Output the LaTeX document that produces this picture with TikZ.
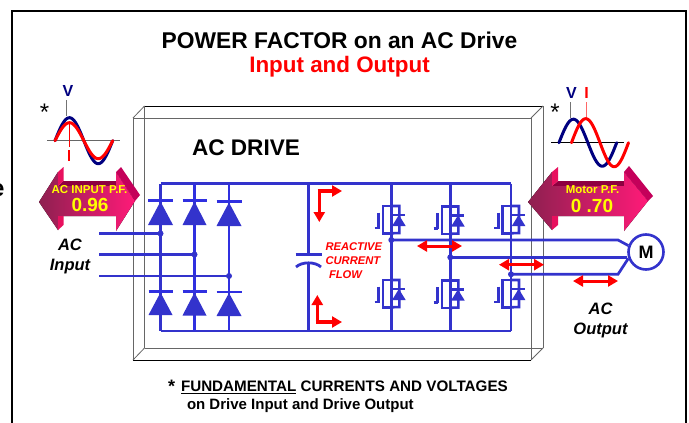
\documentclass[tikz,border=0pt]{standalone}
\usepackage{fontspec}
\setmainfont{Liberation Sans}
\usetikzlibrary{arrows.meta}
\definecolor{bl}{HTML}{3333CC}
\definecolor{blb}{HTML}{3030E0}
\definecolor{navy}{HTML}{000080}
\definecolor{rd}{HTML}{FF0000}
\definecolor{yl}{HTML}{FFFF00}
\definecolor{band}{HTML}{C4005A}
\definecolor{strip}{HTML}{E8105E}
\definecolor{dk}{HTML}{8E0040}
\definecolor{gL}{HTML}{8E2050}
\definecolor{gR}{HTML}{FF1A78}
\newcommand{\fsz}[1]{\fontsize{#1}{#1}\selectfont}
\tikzset{
  txt/.style={inner sep=0pt,outer sep=0pt,align=center},
  wire/.style={draw=bl,line width=2.7pt},
  rwire/.style={draw=blb,line width=2.7pt},
  igw/.style={draw=bl,line width=2.6pt},
  redarrow/.style={draw=rd,line width=3pt,{Triangle[length=10pt,width=11pt]}-{Triangle[length=10pt,width=11pt]}},
  redone/.style={draw=rd,line width=3.3pt,-{Triangle[length=10pt,width=11pt]}},
  sine/.style={line width=3pt,line cap=round},
  boxd/.style={draw=black,line width=1pt},
  boxg/.style={draw=black!60,line width=1pt},
  dot/.style={circle,fill=bl,minimum size=6pt,inner sep=0pt},
}
% diode: x, bar y, base y, half width
\newcommand{\diodeat}[4]{%
  \fill[bl] (#1,#2+1) -- (#1+#4,#3) -- (#1-#4,#3) -- cycle;
  \draw[blb,line width=2.8pt] (#1-#4,#2) -- (#1+#4,#2);
}
% igbt: column x, top y
\newcommand{\igbtat}[2]{%
  \begin{scope}[shift={(#1,#2)}]
    \draw[igw] (0,0) -- (8,0) -- (8,27) -- (0,27.3);
    \draw[igw] (0,0) -- (-8.5,0) -- (-8.5,27.3) -- (0,27.3);
    \draw[bl,line width=3.2pt] (-12.6,6.5) -- (-12.6,22.5);
    \draw[igw] (-16.8,22) -- (-12.6,22);
    \draw[igw] (1,9) -- (14,9);
    \fill[bl] (7.6,9) -- (14.4,20) -- (0.8,20) -- cycle;
  \end{scope}
}
\begin{document}
\begin{tikzpicture}[x=1pt,y=-1pt]
\useasboundingbox (0,0) rectangle (689,423);
\fill[white] (0,0) rectangle (689,423);
% frame
\draw[black,line width=2pt] (11.5,423) -- (11.5,11) -- (686,11) -- (686,423);
\node[txt,anchor=east] (frag) at (4.5,190) {\fsz{24}\bfseries e};
% titles
\node[txt] (title) at (339.5,40) {\fsz{22.8}\bfseries POWER FACTOR on an AC Drive};
\node[txt] (sub) at (339.5,67) {\fsz{22.4}\bfseries\color{rd} Input and Output};
% box
\draw[boxd] (144,106) -- (543,106);
\draw[boxg] (133,118) -- (531,118);
\draw[boxg] (133,118) -- (133,360);
\draw[boxg] (144.5,106) -- (144.5,348);
\draw[boxg] (144.5,348) -- (543,348);
\draw[boxd] (133,360) -- (531,360);
\draw[boxg] (531,118) -- (531,360);
\draw[boxg] (543,106) -- (543,348);
\draw[boxg,line width=.8pt] (133,118) -- (144.5,106);
\draw[boxg,line width=.8pt] (531,118) -- (543,106);
\draw[boxg,line width=.8pt] (133,360) -- (144.5,348);
\draw[boxg,line width=.8pt] (531,360) -- (543,348);
\node[txt] (drv) at (246,148) {\fsz{22.6}\bfseries AC DRIVE};
% named points
\coordinate (tL) at (160.5,183.5); \coordinate (tM) at (194.5,183.5); \coordinate (tR) at (229,183.5);
\coordinate (bL) at (160.5,331); \coordinate (bM) at (194.5,331); \coordinate (bR) at (229,331);
\coordinate (tC) at (308.3,183.5); \coordinate (bC) at (308.3,331);
\coordinate (t1) at (391.3,183.5); \coordinate (t2) at (450.3,183.5); \coordinate (t3) at (511,183.5);
\coordinate (b1) at (391.3,331); \coordinate (b2) at (450.3,331); \coordinate (b3) at (511,331);
\coordinate (capA) at (308.3,254.3); \coordinate (capB) at (308.3,264);
\coordinate (i1) at (99,233.5); \coordinate (i2) at (99,254.5); \coordinate (i3) at (99,276);
\coordinate (j1) at (160.5,233.5); \coordinate (j2) at (194.5,254.5); \coordinate (j3) at (229,276);
\coordinate (o1) at (391.3,240); \coordinate (o2) at (450.3,257.3); \coordinate (o3) at (511,274.3);
\coordinate (o1b) at (618,240); \coordinate (o3b) at (618,274.3);
% busses
\draw[wire] (tL) -- (t3);
\draw[wire] (bL) -- (b3);
\draw[wire] (tL) -- (bL);
\draw[rwire] (tM) -- (bM);
\draw[rwire] (tR) -- (bR);
\draw[wire] (t3) -- (b3);
\draw[wire] (t1) -- (b1);
\draw[wire] (t2) -- (b2);
\draw[wire] (tC) -- (capA);
\draw[wire] (capB) -- (bC);
% capacitor
\draw[wire,line width=2.8pt] (295.5,254.3) -- (321.5,254.3);
\draw[wire,line width=2.8pt] (296,267) .. controls (302,261.5) and (315,261.5) .. (321,267);
% diodes
\diodeat{160.5}{200.5}{225}{12.5}
\diodeat{194.5}{200.5}{225}{12}
\diodeat{229}{201.5}{226}{12.5}
\diodeat{160.5}{291.5}{315}{12}
\diodeat{194.5}{291.5}{315.5}{12}
\diodeat{229}{292}{316}{12.5}
% AC input
\draw[wire] (i1) -- (j1); \draw[wire] (i2) -- (j2); \draw[wire] (i3) -- (j3);
\node[dot] (dj1) at (j1) {}; \node[dot] (dj2) at (j2) {}; \node[dot] (dj3) at (j3) {};
% igbts
\igbtat{391.3}{206}\igbtat{450.3}{206.5}\igbtat{511}{206}
\igbtat{391.3}{280}\igbtat{450.3}{280.5}\igbtat{511}{280}
% motor
\node[circle,draw=bl,line width=2.6pt,fill=white,minimum size=35pt,inner sep=0pt] (mot) at (646,252) {\fsz{18}\bfseries M};
\draw[wire] (o1) -- (o1b) -- (mot.160);
\draw[wire] (o2) -- (o2 -| mot.west);
\draw[wire] (o3) -- (o3b) -- (mot.200);
\node[dot] (do1) at (o1) {}; \node[dot] (do2) at (o2) {}; \node[dot] (do3) at (o3) {};
% red arrows
\coordinate (r1a) at (417,246); \coordinate (r1b) at (462,246);
\coordinate (r2a) at (499,264.7); \coordinate (r2b) at (544,264.7);
\coordinate (r3a) at (573,281); \coordinate (r3b) at (618,281);
\draw[redarrow] (r1a) -- (r1b);
\draw[redarrow] (r2a) -- (r2b);
\draw[redarrow] (r3a) -- (r3b);
\coordinate (u0) at (319.3,191); \coordinate (ua) at (319.3,222); \coordinate (ub) at (342,191);
\draw[redone] (u0) -- (ua);
\draw[redone] (317.7,191) -- (ub);
\coordinate (l0) at (317.3,322); \coordinate (la) at (317.3,295); \coordinate (lb) at (342,322);
\draw[redone] (l0) -- (la);
\draw[redone] (315.7,322) -- (lb);
\node[txt,anchor=west] (re1) at (325.5,247) {\fsz{11.2}\bfseries\itshape\color{rd} REACTIVE};
\node[txt,anchor=west] (re2) at (325.5,261) {\fsz{11.2}\bfseries\itshape\color{rd} CURRENT};
\node[txt,anchor=west] (re3) at (329,274.7) {\fsz{11.2}\bfseries\itshape\color{rd} FLOW};
% labels
\node[txt] (acin1l) at (70,245) {\fsz{16.5}\bfseries\itshape AC};
\node[txt] (acin2l) at (70,266.5) {\fsz{16.5}\bfseries\itshape Input};
\node[txt] (acou1l) at (600.5,309) {\fsz{16.5}\bfseries\itshape AC};
\node[txt] (acou2l) at (600.5,330.5) {\fsz{16.5}\bfseries\itshape Output};
% left big arrow
\fill[dk] (63.5,181) -- (116,181) -- (116,186) -- (58,186) -- cycle;
\fill[left color=gL,right color=gR] (39,202) -- (58,172) -- (58,186) -- (116,186) -- (116,172) -- (135,201) -- (116,231) -- (116,216) -- (58,216) -- (58,230) -- cycle;
\fill[strip] (58,172) -- (63.5,167) -- (63.5,181) -- (58,186) -- cycle;
\fill[strip] (58,216) -- (63.5,216) -- (63.5,225) -- (58,230) -- cycle;
\fill[band] (116,172) -- (121,167) -- (140,195) -- (135,201) -- cycle;
\node[txt] (pf1) at (89.5,190) {\fsz{11.5}\bfseries\color{yl} AC INPUT P.F.};
\node[txt] (pf1v) at (90,205) {\fsz{19}\bfseries\color{yl} 0.96};
% right big arrow
\fill[dk] (558,181) -- (624,181) -- (624,186) -- (552,186) -- cycle;
\fill[left color=gL,right color=gR] (528,202) -- (552,172) -- (552,186) -- (624,186) -- (624,172) -- (648,201) -- (624,231) -- (624,216) -- (552,216) -- (552,230) -- cycle;
\fill[strip] (552,172) -- (558,167) -- (558,181) -- (552,186) -- cycle;
\fill[strip] (552,216) -- (558,216) -- (558,225) -- (552,230) -- cycle;
\fill[band] (624,172) -- (629,166) -- (653,196) -- (648,201) -- cycle;
\node[txt] (pf2) at (592.5,190) {\fsz{11.5}\bfseries\color{yl} Motor P.F.};
\node[txt] (pf2v) at (592,206) {\fsz{19}\bfseries\color{yl} 0 .70};
% left wave
\draw[black!55,line width=1pt] (66,100) -- (66,116);
\draw[black!60,line width=1pt] (47,140.7) -- (119.5,140.7);
\draw[navy,sine] plot[domain=0:57.7,samples=60] ({55+\x},{140.7-23*sin(6.24*\x)});
\draw[rd,sine] plot[domain=0:57.7,samples=60] ({55+\x},{140.7-18*sin(6.24*\x)});
\draw[rd,line width=.9pt] (69,124) -- (69,147);
\draw[rd,line width=2.2pt] (69,150) -- (69,160.5);
\node[txt] (vl) at (68,90.5) {\fsz{16}\bfseries\color{navy} V};
\node[txt] (astl) at (44.5,112.5) {\fsz{24}*};
% right wave
\draw[black!55,line width=1pt] (570,102) -- (570,118);
\draw[rd!60,line width=1pt] (586,102) -- (586,118);
\draw[black,line width=1pt] (551,142.7) -- (623.5,142.7);
\draw[navy,sine] plot[domain=0:57.7,samples=60] ({559+\x},{142.7-23.5*sin(6.24*\x)});
\draw[rd,sine] plot[domain=0:57,samples=60] ({571.5+\x},{142.7-24*sin(6.316*\x)});
\node[txt] (vr) at (571.5,93) {\fsz{16}\bfseries\color{navy} V};
\node[txt] (ir) at (586.7,93) {\fsz{16}\bfseries\color{rd} I};
\node[txt] (astr) at (555,112) {\fsz{24}*};
% footer
\node[txt,anchor=west] (ast) at (168,386) {\fsz{18}\bfseries *};
\node[txt,anchor=west] (f1) at (181,387) {\fsz{15.2}\bfseries\underline{FUNDAMENTAL} CURRENTS AND VOLTAGES};
\node[txt,anchor=west] (f2) at (187,406) {\fsz{15}\bfseries on Drive Input and Drive Output};
\end{tikzpicture}
\end{document}
